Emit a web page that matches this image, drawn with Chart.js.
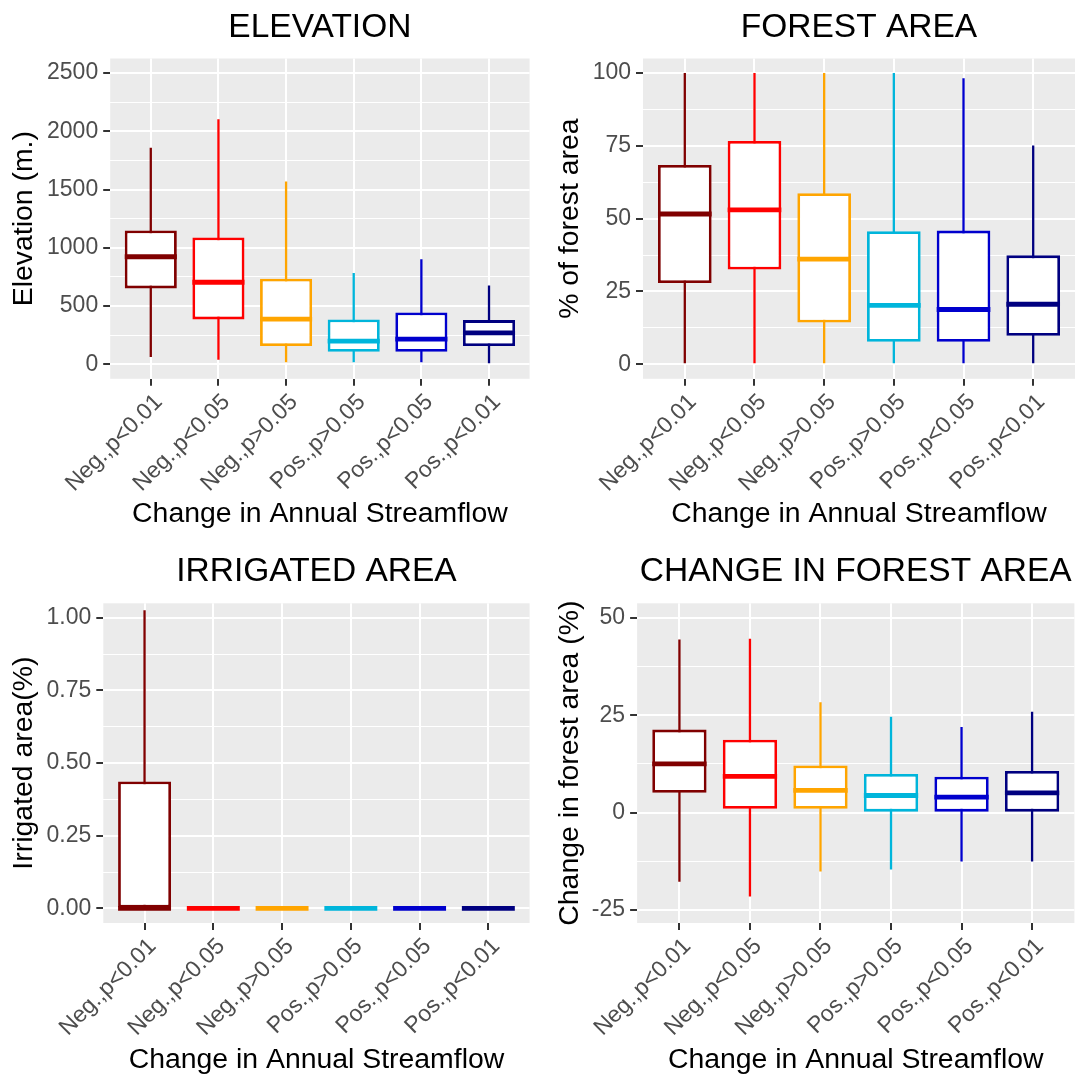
<!DOCTYPE html>
<html>
<head>
<meta charset="utf-8">
<script src="https://cdn.jsdelivr.net/npm/chart.js@4.4.1/dist/chart.umd.min.js"></script>
<style>
  html, body { margin: 0; padding: 0; background: #ffffff; }
  body { width: 1078px; height: 1074px; overflow: hidden; position: relative; }
  canvas { position: absolute; }
</style>
</head>
<body>
<canvas id="c1" width="539" height="537" style="left:0px;top:0px"></canvas>
<canvas id="c2" width="539" height="537" style="left:539px;top:0px"></canvas>
<canvas id="c3" width="539" height="537" style="left:0px;top:537px"></canvas>
<canvas id="c4" width="539" height="537" style="left:539px;top:537px"></canvas>
<script>
// ---------- data ----------
const categories = ['Neg.,p<0.01', 'Neg.,p<0.05', 'Neg.,p>0.05', 'Pos.,p>0.05', 'Pos.,p<0.05', 'Pos.,p<0.01'];
const colors = ['#800000', '#FF0000', '#FFA500', '#00B5DB', '#0000CD', '#000080'];
const xTitle = 'Change in Annual Streamflow';

// ELEVATION
const elevMin = [62, 38, 18, 18, 18, 9];
const elevQ1  = [651, 385, 157, 107, 107, 157];
const elevMed = [923, 704, 388, 198, 216, 269];
const elevQ3  = [1148, 1089, 734, 385, 444, 379];
const elevMax = [1858, 2104, 1568, 784, 902, 675];
const elevTicks = [0, 500, 1000, 1500, 2000, 2500];
const elevMinorTicks = [250, 750, 1250, 1750, 2250];
const elevRange = [-125, 2625];

// FOREST AREA
const forestMin = [0, 0, 0, 0, 0, 0];
const forestQ1  = [27.9, 32.5, 14.3, 7.7, 7.7, 9.8];
const forestMed = [51.6, 53.0, 36.1, 20.2, 18.8, 20.6];
const forestQ3  = [68.4, 76.7, 58.7, 45.7, 45.9, 37.4];
const forestMax = [100, 100, 100, 100, 98.2, 75.1];
const forestTicks = [0, 25, 50, 75, 100];
const forestMinorTicks = [12.5, 37.5, 62.5, 87.5];
const forestRange = [-5, 105];

// IRRIGATED AREA
const irrigMin = [0, 0, 0, 0, 0, 0];
const irrigQ1  = [0, 0, 0, 0, 0, 0];
const irrigMed = [0, 0, 0, 0, 0, 0];
const irrigQ3  = [0.437, 0, 0, 0, 0, 0];
const irrigMax = [1.026, 0, 0, 0, 0, 0];
const irrigTicks = [0, 0.25, 0.5, 0.75, 1.0];
const irrigMinorTicks = [0.125, 0.375, 0.625, 0.875];
const irrigRange = [-0.05, 1.05];

// CHANGE IN FOREST AREA
const chgMin = [-17.7, -21.5, -15.1, -14.6, -12.5, -12.5];
const chgQ1  = [5.1, 1.0, 1.0, 0, 0, 0];
const chgMed = [12.5, 9.3, 5.7, 4.4, 4.0, 5.1];
const chgQ3  = [21.3, 18.7, 12.1, 9.9, 9.2, 10.7];
const chgMax = [44.4, 44.6, 28.3, 24.6, 22.0, 25.9];
const chgTicks = [-25, 0, 25, 50];
const chgMinorTicks = [-12.5, 12.5, 37.5];
const chgRange = [-28.3, 53.7];

// ---------- rendering ----------
Chart.defaults.font.family = "'Liberation Sans', Arial, sans-serif";
Chart.defaults.color = '#4D4D4D';

const BOX_FRACTION = 0.77;

const panelBg = {
  id: 'panelBg',
  beforeDraw(chart) {
    const { ctx, chartArea: a } = chart;
    ctx.save();
    ctx.fillStyle = '#EBEBEB';
    ctx.fillRect(a.left, a.top, a.right - a.left, a.bottom - a.top);
    ctx.restore();
  }
};

function makePanel(id, spec, L) {
  const xs = categories.map((c, i) => i + 1);
  const isMajor = v => spec.major.some(t => Math.abs(t - v) < 1e-9);
  const allTicks = spec.major.concat(spec.minor).sort((a, b) => a - b);
  return new Chart(document.getElementById(id), {
    type: 'bar',
    data: {
      datasets: [
        {
          type: 'bar',
          data: xs.map((x, i) => ({ x: x, y: [spec.min[i], spec.max[i]] })),
          backgroundColor: colors,
          borderWidth: 0,
          grouped: false,
          maxBarThickness: 2.3,
          order: 3
        },
        {
          type: 'bar',
          data: xs.map((x, i) => ({ x: x, y: [spec.q1[i], spec.q3[i]] })),
          backgroundColor: '#FFFFFF',
          borderColor: colors,
          borderWidth: 2.8,
          borderSkipped: false,
          grouped: false,
          barPercentage: BOX_FRACTION,
          categoryPercentage: 1,
          order: 2
        },
        {
          type: 'scatter',
          data: xs.map((x, i) => ({ x: x, y: spec.med[i] })),
          pointStyle: 'line',
          pointBorderColor: colors,
          pointBackgroundColor: colors,
          pointBorderWidth: 4.8,
          pointHoverRadius: 0,
          pointRadius: ctx => {
            const s = ctx.chart.scales.x;
            return s ? (s.getPixelForValue(1 + BOX_FRACTION / 2) - s.getPixelForValue(1)) : 0;
          },
          order: 1
        }
      ]
    },
    options: {
      responsive: false,
      animation: false,
      devicePixelRatio: 1,
      events: [],
      layout: { padding: { left: 0, right: L.padRight, top: 0, bottom: 0 } },
      plugins: {
        legend: { display: false },
        tooltip: { enabled: false },
        title: {
          display: true,
          text: spec.title,
          color: '#000000',
          fullSize: false,
          font: { size: 33.5, weight: 'normal', lineHeight: 1.2 },
          padding: { top: L.titleTop, bottom: L.titleBottom }
        }
      },
      scales: {
        x: {
          type: 'linear',
          min: 0.4,
          max: 6.6,
          offset: false,
          bounds: 'data',
          afterBuildTicks: ax => { ax.ticks = xs.map(v => ({ value: v })); },
          afterFit: ax => { ax.height = L.xAxisH; },
          grid: { color: '#FFFFFF', lineWidth: 2, offset: false, drawTicks: true, tickLength: 7, tickColor: '#333333', tickWidth: 2 },
          border: { display: false },
          ticks: {
            autoSkip: false, minRotation: 45, maxRotation: 45, padding: 3, labelOffset: 8,
            color: '#4D4D4D', font: { size: 23 },
            callback: v => categories[Math.round(v) - 1]
          },
          title: {
            display: true, text: xTitle, color: '#000000',
            font: { size: 28.4, lineHeight: 1 },
            padding: { top: 0, bottom: L.xTitlePad }
          }
        },
        y: {
          type: 'linear',
          min: spec.range[0],
          max: spec.range[1],
          bounds: 'data',
          beginAtZero: false,
          afterBuildTicks: ax => { ax.ticks = allTicks.map(v => ({ value: v })); },
          afterFit: ax => { ax.width = L.yAxisW; },
          grid: {
            color: '#FFFFFF',
            lineWidth: c => (c.tick && isMajor(c.tick.value)) ? 2 : 1,
            drawTicks: true,
            tickLength: 7,
            tickWidth: 2,
            tickColor: c => (c.tick && isMajor(c.tick.value)) ? '#333333' : 'rgba(0,0,0,0)'
          },
          border: { display: false },
          ticks: {
            autoSkip: false, padding: 5, color: '#4D4D4D', font: { size: 23 },
            callback: v => isMajor(v) ? spec.fmt(v) : ''
          },
          title: {
            display: true, text: spec.yTitle, color: '#000000',
            font: { size: 28.4, lineHeight: 1 },
            padding: { top: L.yTitlePad, bottom: 0 }
          }
        }
      }
    },
    plugins: [panelBg]
  });
}

makePanel('c1', {
  title: 'ELEVATION', yTitle: 'Elevation (m.)',
  min: elevMin, q1: elevQ1, med: elevMed, q3: elevQ3, max: elevMax,
  major: elevTicks, minor: elevMinorTicks, range: elevRange,
  fmt: v => String(v)
}, { yAxisW: 110.2, padRight: 9.4, titleTop: 7.4, titleBottom: 10.9, xAxisH: 158.2, xTitlePad: 8.8, yTitlePad: 10.3 });

makePanel('c2', {
  title: 'FOREST AREA', yTitle: '% of forest area',
  min: forestMin, q1: forestQ1, med: forestMed, q3: forestQ3, max: forestMax,
  major: forestTicks, minor: forestMinorTicks, range: forestRange,
  fmt: v => String(v)
}, { yAxisW: 104, padRight: 3, titleTop: 7.4, titleBottom: 10.9, xAxisH: 158.2, xTitlePad: 8.8, yTitlePad: 17.3 });

makePanel('c3', {
  title: 'IRRIGATED AREA', yTitle: 'Irrigated area(%)',
  min: irrigMin, q1: irrigQ1, med: irrigMed, q3: irrigQ3, max: irrigMax,
  major: irrigTicks, minor: irrigMinorTicks, range: irrigRange,
  fmt: v => v.toFixed(2)
}, { yAxisW: 103.3, padRight: 9.4, titleTop: 14.9, titleBottom: 11.2, xAxisH: 151, xTitlePad: 0, yTitlePad: 10.3 });

makePanel('c4', {
  title: 'CHANGE IN FOREST AREA', yTitle: 'Change in forest area (%)',
  min: chgMin, q1: chgQ1, med: chgMed, q3: chgQ3, max: chgMax,
  major: chgTicks, minor: chgMinorTicks, range: chgRange,
  fmt: v => String(v)
}, { yAxisW: 98.1, padRight: 3.6, titleTop: 14.9, titleBottom: 11.2, xAxisH: 151, xTitlePad: 0, yTitlePad: 16.8 });
</script>
</body>
</html>
